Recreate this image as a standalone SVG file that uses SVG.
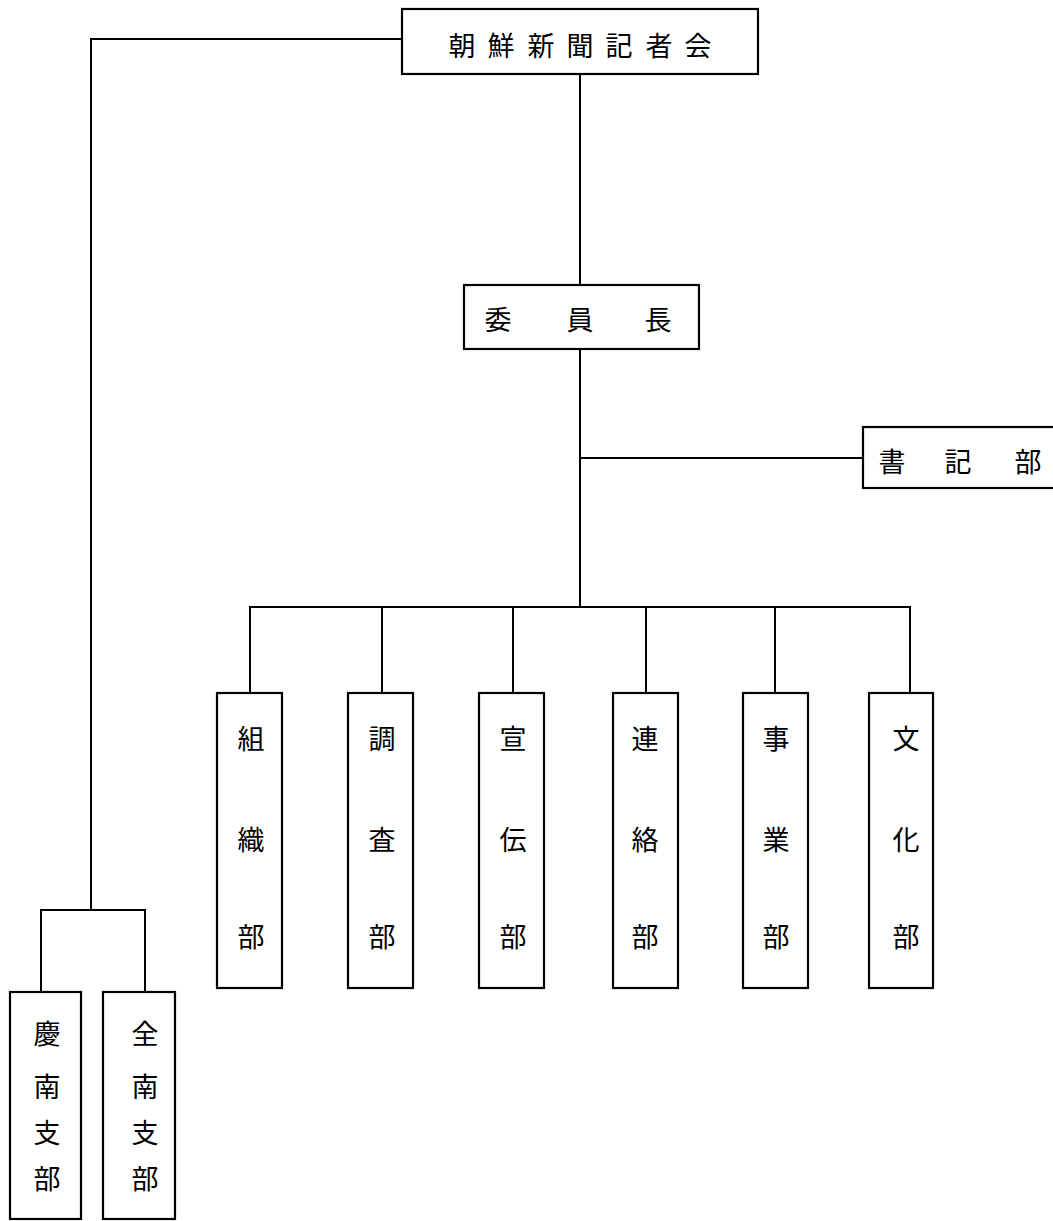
<svg xmlns="http://www.w3.org/2000/svg" width="1053" height="1221" viewBox="0 0 1053 1221">
<style>
.box{fill:#fff;stroke:#000;stroke-width:2.2}
.ln{fill:none;stroke:#000;stroke-width:2}
.t{font-family:"Noto Sans CJK JP","Noto Sans CJK SC",sans-serif;font-size:27px;fill:#000;text-anchor:middle;dominant-baseline:central}
</style>
<rect width="1053" height="1221" fill="#fff"/>
<g id="connectors">
<polyline class="ln" points="402,39 91,39 91,910"/>
<polyline class="ln" points="41,992 41,910 145,910 145,992"/>
<line class="ln" x1="580" y1="74" x2="580" y2="285"/>
<line class="ln" x1="580" y1="349" x2="580" y2="607"/>
<line class="ln" x1="580" y1="458" x2="863" y2="458"/>
<polyline class="ln" points="250,693 250,607 910,607 910,693"/>
<line class="ln" x1="382" y1="607" x2="382" y2="693"/>
<line class="ln" x1="513" y1="607" x2="513" y2="693"/>
<line class="ln" x1="646" y1="607" x2="646" y2="693"/>
<line class="ln" x1="775" y1="607" x2="775" y2="693"/>
</g>
<g id="n-kishakai">
<rect class="box" x="402" y="9" width="356" height="65"/>
<text class="t" x="462 501 541 580 619 659 698" y="44">朝鮮新聞記者会</text>
</g>
<g id="n-iincho">
<rect class="box" x="464" y="285" width="235" height="64"/>
<text class="t" x="498 580 658" y="318">委員長</text>
</g>
<g id="n-shokibu">
<rect class="box" x="863" y="427" width="200" height="61"/>
<text class="t" x="892 958 1028" y="460">書記部</text>
</g>
<g id="n-soshiki">
<rect class="box" x="217" y="693" width="65" height="295"/>
<text class="t" x="251" y="737">組</text><text class="t" x="251" y="838">織</text><text class="t" x="251" y="935">部</text>
</g>
<g id="n-chosa">
<rect class="box" x="348" y="693" width="65" height="295"/>
<text class="t" x="382" y="737">調</text><text class="t" x="382" y="838">査</text><text class="t" x="382" y="935">部</text>
</g>
<g id="n-senden">
<rect class="box" x="479" y="693" width="65" height="295"/>
<text class="t" x="513" y="737">宣</text><text class="t" x="513" y="838">伝</text><text class="t" x="513" y="935">部</text>
</g>
<g id="n-renraku">
<rect class="box" x="613" y="693" width="65" height="295"/>
<text class="t" x="645" y="737">連</text><text class="t" x="645" y="838">絡</text><text class="t" x="645" y="935">部</text>
</g>
<g id="n-jigyo">
<rect class="box" x="743" y="693" width="65" height="295"/>
<text class="t" x="776" y="737">事</text><text class="t" x="776" y="838">業</text><text class="t" x="776" y="935">部</text>
</g>
<g id="n-bunka">
<rect class="box" x="869" y="693" width="64" height="295"/>
<text class="t" x="906" y="737">文</text><text class="t" x="906" y="838">化</text><text class="t" x="906" y="935">部</text>
</g>
<g id="n-keinan">
<rect class="box" x="10" y="992" width="71" height="227"/>
<text class="t" x="47" y="1032">慶</text><text class="t" x="47" y="1085">南</text><text class="t" x="47" y="1131">支</text><text class="t" x="47" y="1177">部</text>
</g>
<g id="n-zennan">
<rect class="box" x="103" y="992" width="72" height="227"/>
<text class="t" x="145" y="1032">全</text><text class="t" x="145" y="1085">南</text><text class="t" x="145" y="1131">支</text><text class="t" x="145" y="1177">部</text>
</g>
</svg>
